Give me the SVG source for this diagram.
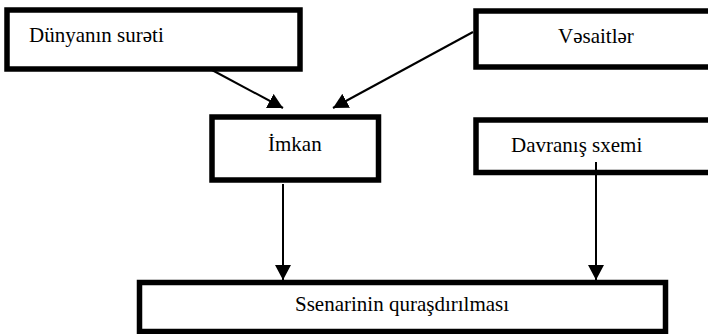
<svg xmlns="http://www.w3.org/2000/svg" width="708" height="334" viewBox="0 0 708 334">
<defs>
<style>
.box{fill:#fff;stroke:#000;stroke-width:5.5}
.lbl{font-family:'Liberation Serif','Times New Roman',serif;font-size:21px;fill:#000}
.conn{stroke:#000;stroke-width:2;fill:none}
</style>
<marker id="ah" viewBox="0 0 15 16" refX="15" refY="8" markerWidth="15" markerHeight="16" markerUnits="userSpaceOnUse" orient="auto">
<path d="M0,0 L15,8 L0,16 Z" fill="#000"/>
</marker>
</defs>
<rect width="708" height="334" fill="#fff"/>
<g id="node-dunya">
<rect class="box" x="7" y="10" width="293" height="59"/>
<text class="lbl" x="29" y="42">Dünyanın surəti</text>
</g>
<g id="node-vesaitler">
<rect class="box" x="476" y="11" width="250" height="56"/>
<text class="lbl" x="558" y="43">Vəsaitlər</text>
</g>
<g id="node-imkan">
<rect class="box" x="212" y="117" width="166.5" height="63"/>
<text class="lbl" x="268" y="151">İmkan</text>
</g>
<g id="node-davranis">
<rect class="box" x="476" y="120" width="250" height="52.5"/>
<text class="lbl" x="511" y="152">Davranış sxemi</text>
</g>
<g id="node-ssenari">
<rect class="box" x="139.5" y="282.5" width="526" height="49"/>
<text class="lbl" x="295" y="311">Ssenarinin quraşdırılması</text>
</g>
<g id="connectors">
<line class="conn" x1="212" y1="70" x2="283" y2="108" marker-end="url(#ah)"/>
<line class="conn" x1="473" y1="32" x2="333" y2="108" marker-end="url(#ah)"/>
<line class="conn" x1="283" y1="184" x2="283" y2="280" marker-end="url(#ah)"/>
<line class="conn" x1="596" y1="162" x2="596" y2="280" marker-end="url(#ah)"/>
</g>
</svg>
